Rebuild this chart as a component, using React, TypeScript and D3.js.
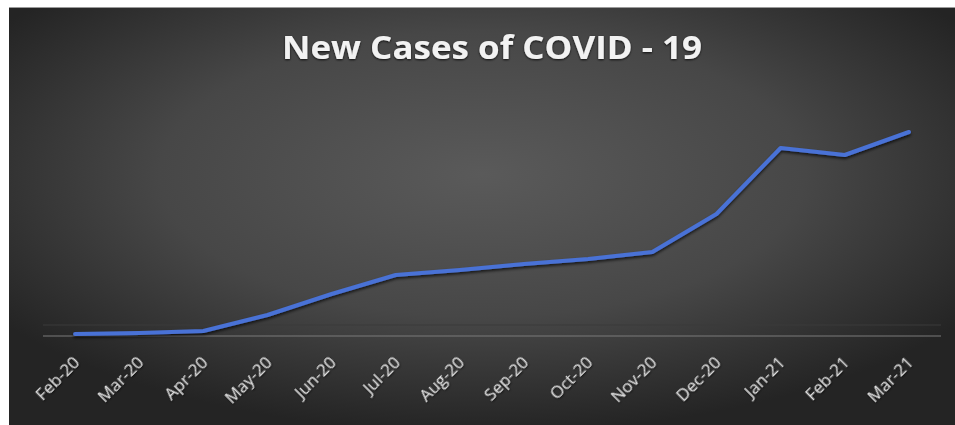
import React from "react";
import * as d3 from "d3";

const months = ["Feb-20","Mar-20","Apr-20","May-20","Jun-20","Jul-20","Aug-20","Sep-20","Oct-20","Nov-20","Dec-20","Jan-21","Feb-21","Mar-21"];
const newCases = [2, 3, 5, 21, 42, 61, 66, 72, 77, 84, 122, 188, 181, 204];
const title = "New Cases of COVID - 19";

const W = 946;
const H = 418;

export default function App() {
  const x = d3.scalePoint<string>().domain(months).range([34, 932]).padding(0.5);
  const y = d3.scaleLinear().domain([0, 250]).range([329, 79]);
  const line = d3.line<number>()
    .x((_, i) => x(months[i]) as number)
    .y((d) => y(d));
  const path = line(newCases) || "";
  return (
    <div style={{ position: "fixed", left: 9, top: 7, width: W, height: H }}>
      <svg width={W} height={H} style={{ display: "block" }}>
        <defs>
          <radialGradient id="bg" cx="50%" cy="40%" r="62%" fx="50%" fy="40%">
            <stop offset="0%" stopColor="#5a5a5a" />
            <stop offset="55%" stopColor="#474747" />
            <stop offset="100%" stopColor="#242424" />
          </radialGradient>
          <filter id="sh" x="-10%" y="-10%" width="120%" height="130%">
            <feDropShadow dx="0" dy="2" stdDeviation="1.5" floodColor="#000" floodOpacity="0.7" />
          </filter>
          <filter id="tsh" x="-10%" y="-30%" width="120%" height="160%">
            <feDropShadow dx="0" dy="1" stdDeviation="1.2" floodColor="#000" floodOpacity="0.8" />
          </filter>
        </defs>
        <rect x={0} y={0} width={W} height={H} fill="url(#bg)" />
        <line x1={0} x2={W} y1={0.5} y2={0.5} stroke="#9a9a9a" strokeWidth={1} />
        <text
          x={483}
          y={52}
          textAnchor="middle"
          fill="#f2f2f2"
          fontFamily="'Open Sans', 'DejaVu Sans', sans-serif"
          fontWeight="bold"
          fontSize={32}
          textLength={420}
          lengthAdjust="spacingAndGlyphs"
          filter="url(#tsh)"
        >{title}</text>
        <line x1={34} x2={932} y1={y(0) - 11} y2={y(0) - 11} stroke="#3a3a3a" strokeWidth={1} />
        <line x1={34} x2={932} y1={y(0)} y2={y(0)} stroke="#7a7a7a" strokeWidth={1} />
        <path d={path} fill="none" stroke="#4a72d6" strokeWidth={4} strokeLinejoin="round" strokeLinecap="round" filter="url(#sh)" />
        {months.map((m) => (
          <text
            key={m}
            transform={`translate(${(x(m) as number) + 2},${y(0) + 24}) rotate(-45)`}
            textAnchor="end"
            dominantBaseline="middle"
            fill="#dedede"
            fontFamily="'Open Sans', 'DejaVu Sans', sans-serif"
            fontSize={17}
            filter="url(#tsh)"
          >{m}</text>
        ))}
      </svg>
    </div>
  );
}
